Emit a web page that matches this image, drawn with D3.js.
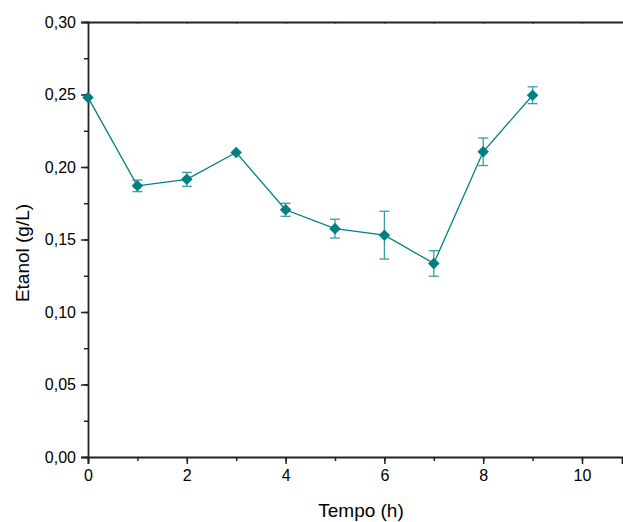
<!DOCTYPE html>
<html>
<head>
<meta charset="utf-8">
<script src="https://cdn.jsdelivr.net/npm/d3@7"></script>
<style>
  html, body { margin: 0; padding: 0; background: #fff; }
  svg { display: block; }
  text { font-family: "Liberation Sans", Arial, sans-serif; fill: #000; }
</style>
</head>
<body>
<svg id="chart" width="623" height="522"></svg>
<script>
// Ethanol concentration over time (mean ± error)
const tempo  = [0, 1, 2, 3, 4, 5, 6, 7, 8, 9];
const etanol = [0.248, 0.187, 0.1915, 0.210, 0.1705, 0.1575, 0.153, 0.1335, 0.2105, 0.2495];
const erro   = [0.0, 0.0040, 0.0048, 0.0, 0.0045, 0.0065, 0.0165, 0.0088, 0.0095, 0.0058];
const xTicks = [0, 2, 4, 6, 8, 10];
const yTicks = [0.00, 0.05, 0.10, 0.15, 0.20, 0.25, 0.30];

const svg = d3.select("#chart");
const plotL = 88, plotR = 622, plotT = 22, plotB = 457;

const x = d3.scaleLinear().domain([0, 10.81]).range([plotL, plotR]);
const y = d3.scaleLinear().domain([0, 0.30]).range([plotB, plotT]);

const fmt = d3.format(".2f");
const comma = v => fmt(v).replace(".", ",");

const axisColor = "#222";
const teal = "#008080";
const errColor = "#3a9e9e";

// Bottom axis: labelled major ticks every 2 h, minor every 1 h
const xMinor = d3.range(0, 11, 1);
const gx = svg.append("g").attr("transform", `translate(0,${plotB})`);
gx.call(d3.axisBottom(x).tickValues(xMinor).tickSize(4).tickFormat(""));
gx.call(g => { g.select(".domain").remove(); g.selectAll(".tick line").attr("stroke", axisColor).attr("stroke-width", 1.5); });
const gxMaj = svg.append("g").attr("transform", `translate(0,${plotB})`);
gxMaj.call(d3.axisBottom(x).tickValues(xTicks).tickSize(7).tickPadding(6).tickFormat(d3.format("d")));
gxMaj.call(g => {
  g.select(".domain").attr("stroke", axisColor).attr("stroke-width", 1.8);
  g.selectAll(".tick line").attr("stroke", axisColor).attr("stroke-width", 1.5);
  g.selectAll(".tick text").attr("font-size", 16).attr("font-family", "Liberation Sans, Arial, sans-serif").attr("fill", "#000");
});

// Left axis: labelled every 0.05, minor every 0.025
const yMinor = d3.range(0, 0.3001, 0.025);
const gy = svg.append("g").attr("transform", `translate(${plotL},0)`);
gy.call(d3.axisLeft(y).tickValues(yMinor).tickSize(4).tickFormat(""));
gy.call(g => { g.select(".domain").remove(); g.selectAll(".tick line").attr("stroke", axisColor).attr("stroke-width", 1.5); });
const gyMaj = svg.append("g").attr("transform", `translate(${plotL},0)`);
gyMaj.call(d3.axisLeft(y).tickValues(yTicks).tickSize(7).tickPadding(5).tickFormat(comma));
gyMaj.call(g => {
  g.select(".domain").attr("stroke", axisColor).attr("stroke-width", 1.8);
  g.selectAll(".tick line").attr("stroke", axisColor).attr("stroke-width", 1.5);
  g.selectAll(".tick text").attr("font-size", 16).attr("font-family", "Liberation Sans, Arial, sans-serif").attr("fill", "#000");
});

// Top frame line with small inward ticks
const gt = svg.append("g").attr("transform", `translate(0,${plotT})`);
gt.call(d3.axisTop(x).tickValues(xMinor).tickSize(-1.5).tickFormat(""));
gt.call(g => {
  g.select(".domain").attr("stroke", axisColor).attr("stroke-width", 1.8);
  g.selectAll(".tick line").attr("stroke", axisColor).attr("stroke-width", 1.5);
});

// Axis titles
svg.append("text")
  .attr("x", 361).attr("y", 517)
  .attr("text-anchor", "middle")
  .attr("font-size", 19)
  .text("Tempo (h)");
svg.append("text")
  .attr("transform", `translate(29,253) rotate(-90)`)
  .attr("text-anchor", "middle")
  .attr("font-size", 19)
  .text("Etanol (g/L)");

const data = tempo.map((t, i) => ({ t, v: etanol[i], e: erro[i] }));

// Error bars
const eb = svg.append("g").attr("stroke", errColor).attr("stroke-width", 1.3);
data.filter(d => d.e > 0).forEach(d => {
  const cx = x(d.t), cap = 5;
  eb.append("line").attr("x1", cx).attr("x2", cx).attr("y1", y(d.v - d.e)).attr("y2", y(d.v + d.e));
  eb.append("line").attr("x1", cx - cap).attr("x2", cx + cap).attr("y1", y(d.v + d.e)).attr("y2", y(d.v + d.e));
  eb.append("line").attr("x1", cx - cap).attr("x2", cx + cap).attr("y1", y(d.v - d.e)).attr("y2", y(d.v - d.e));
});

// Connecting line
svg.append("path")
  .datum(data)
  .attr("fill", "none")
  .attr("stroke", teal)
  .attr("stroke-width", 1.3)
  .attr("d", d3.line().x(d => x(d.t)).y(d => y(d.v)));

// Diamond markers
const diamond = d3.symbol().type(d3.symbolDiamond2).size(85);
svg.append("g").selectAll("path")
  .data(data)
  .join("path")
  .attr("transform", d => `translate(${x(d.t)},${y(d.v)})`)
  .attr("d", diamond)
  .attr("fill", teal);
</script>
</body>
</html>
